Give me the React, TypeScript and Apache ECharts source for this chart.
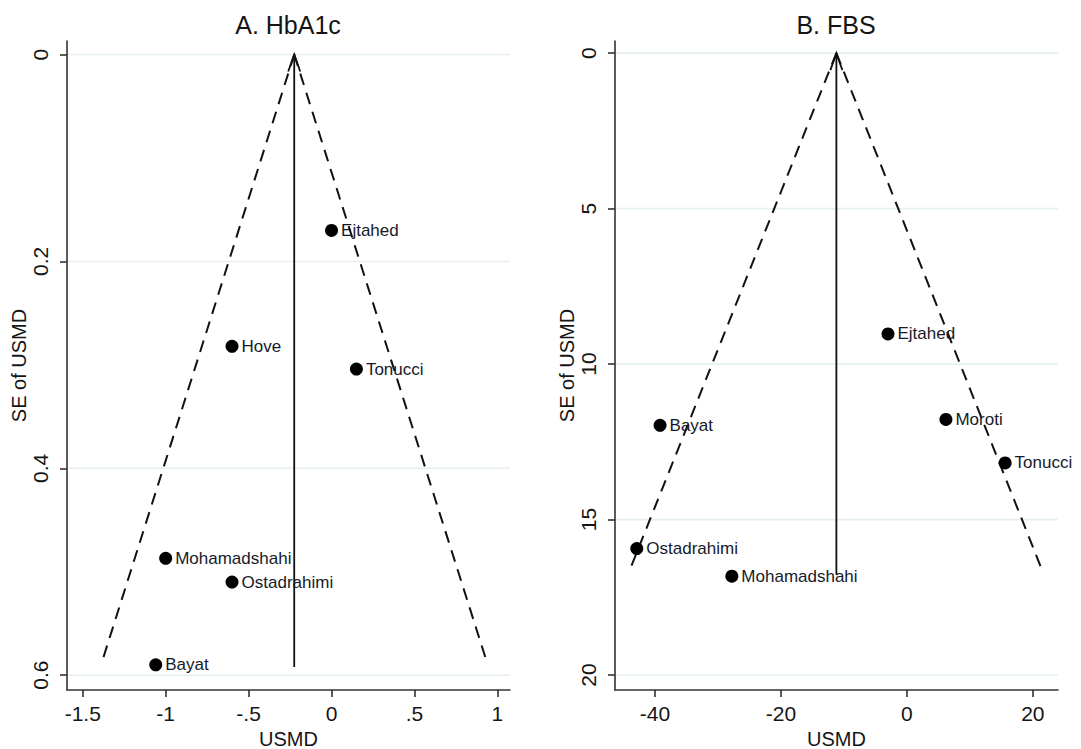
import React, { useEffect, useRef } from "react";
import * as echarts from "echarts";

// Panel A: HbA1c
const hba1cStudies = ["Ejtahed", "Hove", "Tonucci", "Mohamadshahi", "Ostadrahimi", "Bayat"];
const hba1cUsmd = [0.0, -0.6, 0.15, -1.0, -0.6, -1.06];
const hba1cSe = [0.17, 0.282, 0.304, 0.487, 0.51, 0.59];
const hba1cPooled = -0.225;
const hba1cFunnelSe = 0.583;
const hba1cFunnelLower = -1.376;
const hba1cFunnelUpper = 0.928;
const hba1cLineSe = 0.592;
const hba1cXTicks = [-1.5, -1, -0.5, 0, 0.5, 1];
const hba1cYTicks = [0, 0.2, 0.4, 0.6];

// Panel B: FBS
const fbsStudies = ["Ejtahed", "Moroti", "Tonucci", "Bayat", "Ostadrahimi", "Mohamadshahi"];
const fbsUsmd = [-3.0, 6.2, 15.6, -39.2, -42.9, -27.8];
const fbsSe = [9.03, 11.78, 13.18, 11.97, 15.93, 16.82];
const fbsPooled = -11.2;
const fbsFunnelSe = 16.7;
const fbsFunnelLower = -44.17;
const fbsFunnelUpper = 21.62;
const fbsLineSe = 16.77;
const fbsXTicks = [-40, -20, 0, 20];
const fbsYTicks = [0, 5, 10, 15, 20];

const FONT = "'Liberation Sans', Arial, Helvetica, sans-serif";
const AXIS_COLOR = "#333333";
const TEXT_COLOR = "#151515";
const GRID_COLOR = "#e6f0f1";

const stripLeadingZero = (v: number) => String(v).replace("0.", ".");

function makeXAxis(gridIndex: number, min: number, max: number, ticks: number[], fmt: (v: number) => string) {
  return {
    type: "value",
    gridIndex,
    min,
    max,
    name: "USMD",
    nameLocation: "middle",
    nameGap: 37,
    nameTextStyle: { fontSize: 20, color: TEXT_COLOR, fontFamily: FONT },
    axisLine: { show: true, onZero: false, lineStyle: { color: AXIS_COLOR, width: 1.6 } },
    axisTick: { show: true, length: 7, customValues: ticks, lineStyle: { color: AXIS_COLOR, width: 1.6 } },
    axisLabel: { customValues: ticks, formatter: fmt, fontSize: 21, color: TEXT_COLOR, fontFamily: FONT, margin: 13 },
    splitLine: { show: false },
  };
}

function makeYAxis(gridIndex: number, min: number, max: number, ticks: number[]) {
  return {
    type: "value",
    gridIndex,
    inverse: true,
    min,
    max,
    name: "SE of USMD",
    nameLocation: "middle",
    nameGap: 34,
    nameTextStyle: { fontSize: 20, color: TEXT_COLOR, fontFamily: FONT },
    axisLine: { show: true, onZero: false, lineStyle: { color: AXIS_COLOR, width: 1.6 } },
    axisTick: { show: true, length: 7, customValues: ticks, lineStyle: { color: AXIS_COLOR, width: 1.6 } },
    axisLabel: {
      customValues: ticks,
      formatter: (v: number) => String(v),
      rotate: 90,
      fontSize: 21,
      color: TEXT_COLOR,
      fontFamily: FONT,
      margin: 16,
    },
    splitLine: { show: false },
  };
}

function gridLineSeries(idx: number, ticks: number[]) {
  return {
    type: "custom",
    xAxisIndex: idx,
    yAxisIndex: idx,
    z: 0,
    silent: true,
    data: ticks.map((v) => [0, v]),
    renderItem: (params: any, api: any) => {
      const cs = params.coordSys;
      const y = api.coord([0, api.value(1)])[1];
      return {
        type: "line",
        shape: { x1: cs.x, y1: y, x2: cs.x + cs.width, y2: y },
        style: { stroke: GRID_COLOR, lineWidth: 1.6 },
      };
    },
  };
}

function arrowLineSeries(idx: number, pooled: number, lineSe: number) {
  return {
    type: "custom",
    xAxisIndex: idx,
    yAxisIndex: idx,
    z: 3,
    silent: true,
    data: [[pooled, 0, lineSe]],
    renderItem: (_params: any, api: any) => {
      const top = api.coord([api.value(0), api.value(1)]);
      const bot = api.coord([api.value(0), api.value(2)]);
      return {
        type: "group",
        children: [
          {
            type: "line",
            shape: { x1: top[0], y1: top[1], x2: bot[0], y2: bot[1] },
            style: { stroke: "#111", lineWidth: 1.8 },
          },
          {
            type: "polyline",
            shape: { points: [[top[0] - 6, top[1] + 17], [top[0], top[1]], [top[0] + 6, top[1] + 17]] },
            style: { stroke: "#111", lineWidth: 1.8, fill: "none" },
          },
        ],
      };
    },
  };
}

function funnelSeries(idx: number, pooled: number, end: number, se: number) {
  return {
    type: "line",
    xAxisIndex: idx,
    yAxisIndex: idx,
    z: 3,
    silent: true,
    symbol: "none",
    clip: false,
    data: [
      [pooled, 0],
      [end, se],
    ],
    lineStyle: { color: "#111", width: 2, type: [12, 8] },
  };
}

function pointSeries(idx: number, xs: number[], ys: number[], names: string[]) {
  return {
    type: "scatter",
    xAxisIndex: idx,
    yAxisIndex: idx,
    z: 4,
    symbolSize: 13,
    itemStyle: { color: "#000", opacity: 1 },
    data: xs.map((x, i) => [x, ys[i], names[i]]),
    label: {
      show: true,
      position: "right",
      distance: 3,
      formatter: (p: any) => p.value[2],
      fontSize: 17,
      color: "#161a2a",
      fontFamily: FONT,
    },
  };
}

export default function App() {
  const ref = useRef<HTMLDivElement>(null);

  useEffect(() => {
    if (!ref.current) return;
    const chart = echarts.init(ref.current, undefined, { renderer: "svg" });
    chart.setOption({
      animation: false,
      backgroundColor: "#ffffff",
      textStyle: { fontFamily: FONT },
      grid: [
        { left: 67, top: 41, width: 443, height: 649, containLabel: false, outerBoundsMode: "none" },
        { left: 615, top: 41, width: 443, height: 649, containLabel: false, outerBoundsMode: "none" },
      ],
      xAxis: [
        makeXAxis(0, -1.595, 1.076, hba1cXTicks, stripLeadingZero),
        makeXAxis(1, -46.36, 24.0, fbsXTicks, (v: number) => String(v)),
      ],
      yAxis: [makeYAxis(0, -0.0131, 0.6143, hba1cYTicks), makeYAxis(1, -0.39, 20.48, fbsYTicks)],
      graphic: [
        {
          type: "text",
          x: 288,
          y: 25,
          style: { text: "A. HbA1c", fontSize: 25, fill: TEXT_COLOR, fontFamily: FONT, textAlign: "center", textVerticalAlign: "middle" },
        },
        {
          type: "text",
          x: 836,
          y: 25,
          style: { text: "B. FBS", fontSize: 25, fill: TEXT_COLOR, fontFamily: FONT, textAlign: "center", textVerticalAlign: "middle" },
        },
      ],
      series: [
        gridLineSeries(0, hba1cYTicks),
        gridLineSeries(1, fbsYTicks),
        funnelSeries(0, hba1cPooled, hba1cFunnelLower, hba1cFunnelSe),
        funnelSeries(0, hba1cPooled, hba1cFunnelUpper, hba1cFunnelSe),
        funnelSeries(1, fbsPooled, fbsFunnelLower, fbsFunnelSe),
        funnelSeries(1, fbsPooled, fbsFunnelUpper, fbsFunnelSe),
        arrowLineSeries(0, hba1cPooled, hba1cLineSe),
        arrowLineSeries(1, fbsPooled, fbsLineSe),
        pointSeries(0, hba1cUsmd, hba1cSe, hba1cStudies),
        pointSeries(1, fbsUsmd, fbsSe, fbsStudies),
      ],
    });
    return () => chart.dispose();
  }, []);

  return (
    <div
      ref={ref}
      style={{ position: "fixed", left: 0, top: 0, width: 1081, height: 749, background: "#fff" }}
    />
  );
}
